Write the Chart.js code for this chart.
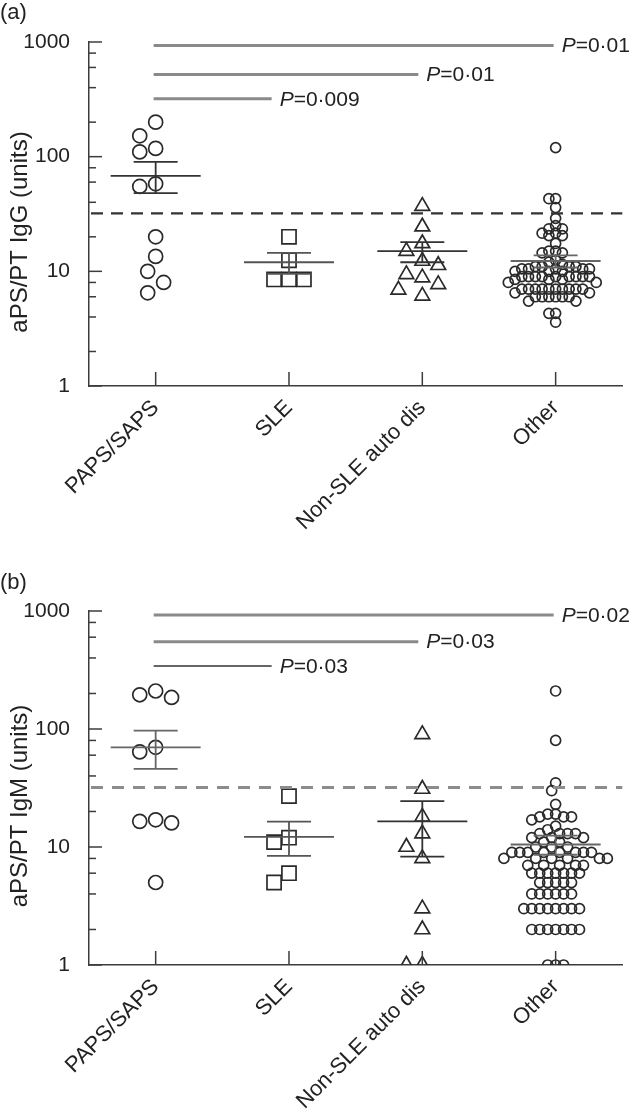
<!DOCTYPE html>
<html><head><meta charset="utf-8">
<script src="https://cdn.jsdelivr.net/npm/chart.js@4.4.0/dist/chart.umd.min.js"></script>
<style>
html,body{margin:0;padding:0;background:#fff;width:634px;height:1112px;overflow:hidden}
.panel{position:absolute;left:0;width:634px;height:556px}
#pa{top:0}#pb{top:556px}
canvas{display:block}
</style></head><body>
<div class="panel" id="pa"><canvas id="ca" width="634" height="556" style="width:634px;height:556px"></canvas></div>
<div class="panel" id="pb"><canvas id="cb" width="634" height="556" style="width:634px;height:556px"></canvas></div>
<script>
// ---------- data ----------
const categories = ['PAPS/SAPS', 'SLE', 'Non-SLE auto dis', 'Other'];
const yMajorTicks = [1, 10, 100, 1000];
const yMinorTicks = [2, 4, 6, 8, 20, 40, 60, 80, 200, 400, 600, 800];

// Panel (a) aPS/PT IgG
const iggPaps   = [200, 152, 118, 110, 58, 55, 20, 13.5, 10, 8, 6.5];
const iggSle    = [20, 12.5, 8.5, 8.5, 8.5];
const iggNonSle = [37, 24.5, 17.5, 15, 12.3, 11.3, 9.4, 8.8, 7.7, 6.9, 6.1];
const iggOther  = [120, 43, 43, 36, 29, 25, 23.5, 23.5, 21.5, 21.5, 20.5, 20.5, 17.5, 15, 15, 14.5, 14.5,
                   12.5, 12, 11.5, 11, 11, 11, 11, 10.5, 10.5, 10.5, 10.5, 10.5, 10, 10, 10,
                   9, 9, 9, 9, 9, 9, 9, 9, 9, 8.5, 8.5, 8.5, 8, 8,
                   7, 7, 7, 7, 7, 7, 7, 7, 7, 7, 6.5, 6.5, 6, 6, 6, 6, 6, 6, 5.5, 5.5, 4.3, 4.3, 3.6];
const iggMean   = [68, 12, 15, 12.3];
const iggSemHi  = [90, 14.5, 18, 13.8];
const iggSemLo  = [48, 9.5, 12, 10.8];
const iggCutoff = 32;
const iggPLevels = [930, 520, 320];
const iggPTexts  = ['=0·01', '=0·01', '=0·009'];

// Panel (b) aPS/PT IgM
const igmPaps   = [210, 195, 185, 70, 64, 17, 16.5, 16, 5];
const igmSle    = [27, 12, 11, 6, 5];
const igmNonSle = [90, 31, 18, 13, 10, 8, 3, 2, 1, 1];
const igmOther  = [210, 80, 35, 30, 23, 19, 19, 18, 18, 18, 17, 15, 14, 13, 13, 13, 13, 12, 12, 12, 11, 11,
                   10, 10, 10, 9, 9, 9, 9, 9, 9, 9, 9, 8, 8, 8, 8, 8, 8, 7, 7, 7, 7, 7,
                   6, 6, 6, 6, 6, 6, 6, 5, 5, 5, 5, 5, 4, 4, 4, 4, 4, 4,
                   3, 3, 3, 3, 3, 3, 3, 3, 2, 2, 2, 2, 2, 2, 2, 1, 1, 1];
const igmMean   = [70, 12.2, 16.5, 10.5];
const igmSemHi  = [97, 16.4, 24.5, 12.5];
const igmSemLo  = [46, 8.4, 8.3, 8.6];
const igmCutoff = 32;
const igmPLevels = [925, 550, 342];
const igmPTexts  = ['=0·02', '=0·03', '=0·03'];

// ---------- styling ----------
const FONT = '"Liberation Sans", Arial, Helvetica, sans-serif';
const TXT = '#222';
const AX = '#3c3c3c';
const markerStyle = ['circle', 'rect', 'triangle', 'circle'];
const markerRadius = [7, 10, 8.5, 5];
const PX_PER_CAT = 134;
const pLineEnds = [3.985, 2.97, 1.87];

function swarm(values, center, gap, pxPerDecade) {
  const placed = [];
  const sorted = values.slice().sort((a, b) => b - a);
  const step = gap / 2;
  return sorted.map(v => {
    const py = Math.log10(v) * pxPerDecade;
    let off = 0;
    for (let k = 0; k < 400; k++) {
      const cand = k === 0 ? 0 : (k % 2 ? -1 : 1) * Math.ceil(k / 2) * step;
      if (placed.every(p => Math.hypot(p.px - cand, p.py - py) >= gap - 0.01)) { off = cand; break; }
    }
    placed.push({ px: off, py });
    return { x: center + off / PX_PER_CAT, y: v };
  });
}

function line(ctx, x0, y0, x1, y1) { ctx.beginPath(); ctx.moveTo(x0, y0); ctx.lineTo(x1, y1); ctx.stroke(); }

const annot = {
  id: 'annot',
  afterDatasetsDraw(chart, args, o) {
    const { ctx, chartArea: a, scales: { x, y } } = chart;
    ctx.save();
    ctx.lineCap = 'butt';
    ctx.strokeStyle = AX; ctx.lineWidth = 1.5;
    yMajorTicks.concat(yMinorTicks).forEach(v => {
      const py = y.getPixelForValue(v);
      line(ctx, a.left, py, a.left + (yMajorTicks.includes(v) ? 13 : 7), py);
    });
    categories.forEach((c, i) => {
      const px = x.getPixelForValue(i + 1);
      line(ctx, px, a.bottom, px, a.bottom - 14);
    });
    ctx.setLineDash(o.dash); ctx.strokeStyle = o.cutColor; ctx.lineWidth = o.cutWidth;
    const yc = y.getPixelForValue(o.cutoff);
    line(ctx, a.left + 2, yc, a.right, yc);
    ctx.setLineDash([]);
    o.mean.forEach((m, i) => {
      const px = x.getPixelForValue(i + 1);
      ctx.strokeStyle = o.meanColor[i]; ctx.lineWidth = 1.8;
      const pm = y.getPixelForValue(m), ph = y.getPixelForValue(o.hi[i]), pl = y.getPixelForValue(o.lo[i]);
      line(ctx, px - 45, pm, px + 45, pm);
      line(ctx, px - 22, ph, px + 22, ph);
      line(ctx, px - 22, pl, px + 22, pl);
      line(ctx, px, ph, px, pl);
    });
    o.pLevels.forEach((lv, i) => {
      const py = y.getPixelForValue(lv);
      const x0 = x.getPixelForValue(1) - 2, x1 = x.getPixelForValue(pLineEnds[i]);
      ctx.strokeStyle = o.pColor[i]; ctx.lineWidth = o.pWidth[i];
      line(ctx, x0, py, x1, py);
      ctx.fillStyle = TXT; ctx.textBaseline = 'middle'; ctx.textAlign = 'left';
      ctx.font = 'italic 21px ' + FONT;
      const tx = x1 + 8;
      ctx.fillText('P', tx, py + 1);
      const w = ctx.measureText('P').width;
      ctx.font = '21px ' + FONT;
      ctx.fillText(o.pTexts[i], tx + w, py + 1);
    });
    ctx.restore();
  },
  afterDraw(chart, args, o) {
    const { ctx, chartArea: a } = chart;
    ctx.save();
    ctx.fillStyle = TXT;
    ctx.font = '22px ' + FONT; ctx.textAlign = 'left'; ctx.textBaseline = 'middle';
    ctx.fillText(o.letter, 0, o.letterY);
    ctx.translate(20, (a.top + a.bottom) / 2 + 18);
    ctx.rotate(-Math.PI / 2);
    ctx.font = '24px ' + FONT; ctx.textAlign = 'center';
    ctx.fillText(o.title, 0, 0);
    ctx.restore();
  }
};

function makePanel(cfg) {
  const pxPerDecade = (cfg.bottom - cfg.top) / 3;
  const datasets = cfg.series.map((vals, i) => ({
    data: swarm(vals, i + 1, cfg.gaps[i], pxPerDecade),
    pointStyle: markerStyle[i],
    pointRadius: markerRadius[i],
    pointBorderColor: '#2a2a2a',
    pointBorderWidth: 1.7,
    pointBackgroundColor: 'rgba(255,255,255,0)',
    showLine: false
  }));
  new Chart(document.getElementById(cfg.canvas), {
    type: 'scatter',
    data: { datasets },
    options: {
      responsive: false, animation: false, devicePixelRatio: 1,
      layout: { padding: { top: cfg.top, right: 10, left: 0, bottom: 0 } },
      plugins: { legend: { display: false }, tooltip: { enabled: false }, annot: cfg.annot },
      scales: {
        x: {
          type: 'linear', min: 0.5, max: 4.5,
          afterBuildTicks: s => { s.ticks = categories.map((c, i) => ({ value: i + 1 })); },
          afterFit: s => { s.height = 556 - cfg.bottom; },
          ticks: {
            callback: (v, i) => categories[i], minRotation: 45, maxRotation: 45, autoSkip: false,
            color: TXT, font: { family: FONT, size: 22 }, padding: 1
          },
          grid: { display: false },
          border: { display: true, color: AX, width: 1.5 }
        },
        y: {
          type: 'logarithmic', min: 1, max: 1000,
          afterBuildTicks: s => { s.ticks = yMajorTicks.concat(yMinorTicks).sort((a, b) => a - b).map(v => ({ value: v })); },
          afterFit: s => { s.width = 89; },
          ticks: {
            callback: v => (yMajorTicks.includes(v) ? String(v) : ''), autoSkip: false,
            color: TXT, font: { family: FONT, size: 21 }, padding: 11
          },
          grid: { display: false },
          border: { display: true, color: AX, width: 1.5 }
        }
      }
    },
    plugins: [annot]
  });
}

makePanel({
  canvas: 'ca', top: 42, bottom: 386, gaps: [16, 15, 16, 6.8],
  series: [iggPaps, iggSle, iggNonSle, iggOther],
  annot: {
    letter: '(a)', letterY: 13, title: 'aPS/PT IgG (units)',
    cutoff: iggCutoff, dash: [12, 8], cutColor: '#333', cutWidth: 2.2,
    mean: iggMean, hi: iggSemHi, lo: iggSemLo,
    meanColor: ['#333', '#555', '#333', '#666'],
    pLevels: iggPLevels, pTexts: iggPTexts,
    pColor: ['#8a8a8a', '#8a8a8a', '#8a8a8a'], pWidth: [3, 3, 3]
  }
});
makePanel({
  canvas: 'cb', top: 55, bottom: 409, gaps: [16, 15, 16, 8],
  series: [igmPaps, igmSle, igmNonSle, igmOther],
  annot: {
    letter: '(b)', letterY: 27, title: 'aPS/PT IgM (units)',
    cutoff: igmCutoff, dash: [12, 9], cutColor: '#8c8c8c', cutWidth: 3,
    mean: igmMean, hi: igmSemHi, lo: igmSemLo,
    meanColor: ['#666', '#555', '#333', '#666'],
    pLevels: igmPLevels, pTexts: igmPTexts,
    pColor: ['#8a8a8a', '#8a8a8a', '#333'], pWidth: [3, 3, 1.6]
  }
});
</script>
</body></html>
